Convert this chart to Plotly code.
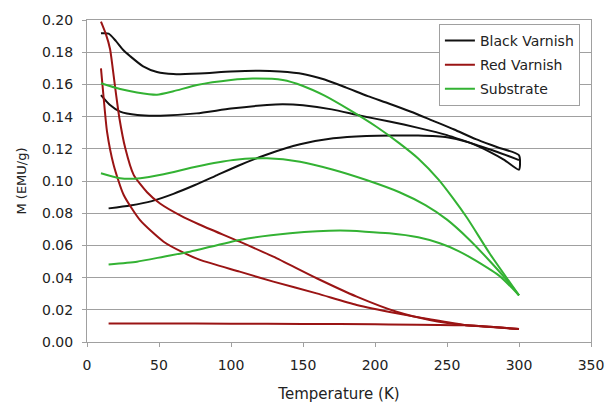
import plotly.graph_objects as go

# ---------------- data ----------------
# Black Varnish: rising curve, upper curve, middle curve
black_c_T = [15, 30, 45, 60, 75, 90, 105, 125, 148, 171, 194, 213, 230, 250, 265, 280, 290, 300]
black_c_M = [0.083, 0.0848, 0.0875, 0.092, 0.0975, 0.1035, 0.1095, 0.1165, 0.1228, 0.1265,
             0.128, 0.1283, 0.1282, 0.1272, 0.124, 0.118, 0.113, 0.107]
black_a_T = [9.7, 15, 20, 25, 30, 39, 48.6, 60, 78, 100, 120, 134, 150, 165, 180, 195, 210,
             225, 240, 255, 270, 285, 300]
black_a_M = [0.1917, 0.1915, 0.187, 0.1815, 0.1775, 0.1712, 0.1677, 0.1664, 0.1668, 0.168,
             0.1685, 0.168, 0.1665, 0.163, 0.158, 0.1527, 0.148, 0.143, 0.1375, 0.132, 0.126,
             0.121, 0.116]
black_b_T = [9.7, 16, 23, 35, 51, 76, 100, 125, 136, 150, 170, 190, 210, 230, 250, 270, 285, 300]
black_b_M = [0.1534, 0.1472, 0.1431, 0.141, 0.1406, 0.142, 0.145, 0.1472, 0.1476, 0.147,
             0.1445, 0.1405, 0.137, 0.133, 0.1285, 0.1225, 0.118, 0.113]

# Red Varnish
red_1_T = [9.7, 13, 16, 18, 20, 22.5, 26.6, 32.4, 41.7, 50.7, 65, 78, 106, 129.4, 159.5,
           187.3, 215, 238, 262, 280, 300]
red_1_M = [0.199, 0.1915, 0.182, 0.169, 0.155, 0.139, 0.1203, 0.1038, 0.093, 0.086, 0.0785,
           0.073, 0.0623, 0.053, 0.0396, 0.0282, 0.0188, 0.0137, 0.0106, 0.0095, 0.008]
red_2_T = [9.7, 11.6, 13.9, 18.5, 25.5, 37, 53.2, 67, 78.5, 106, 129.4, 159.5, 187.3, 215,
           238, 262, 280, 300]
red_2_M = [0.170, 0.1513, 0.1307, 0.110, 0.0913, 0.0755, 0.0623, 0.0555, 0.051, 0.0437,
           0.0375, 0.0302, 0.023, 0.0178, 0.0141, 0.0106, 0.0095, 0.008]
red_3_T = [15, 50, 100, 150, 200, 262, 300]
red_3_M = [0.0115, 0.0115, 0.0114, 0.0112, 0.011, 0.0104, 0.008]

# Substrate
green_1_T = [9.7, 23, 34.7, 48.6, 60, 76.4, 100, 115, 136, 150, 165, 182.6, 201, 217, 230,
             244, 254, 264, 280, 300]
green_1_M = [0.1607, 0.1571, 0.155, 0.1536, 0.1557, 0.1596, 0.1627, 0.1636, 0.1627, 0.159,
             0.153, 0.144, 0.1337, 0.1234, 0.114, 0.101, 0.0895, 0.077, 0.0545, 0.029]
green_2_T = [9.7, 23, 37, 53.2, 76.4, 101.6, 125, 148, 171, 194, 217, 235, 250, 265, 280,
             290, 300]
green_2_M = [0.1048, 0.1017, 0.1017, 0.1042, 0.109, 0.113, 0.1141, 0.112, 0.107, 0.1006,
             0.093, 0.085, 0.076, 0.064, 0.05, 0.04, 0.029]
green_3_T = [15, 34.7, 53.2, 71.5, 106, 141, 175.7, 210, 230, 245, 258, 270, 287, 300]
green_3_M = [0.0482, 0.0499, 0.053, 0.0561, 0.0634, 0.0675, 0.0692, 0.0675, 0.065, 0.0613,
             0.0565, 0.0505, 0.0406, 0.029]

series_names = ["Black Varnish", "Red Varnish", "Substrate"]
series_colors = ["#111111", "#9a1414", "#33b233"]

x_ticks = [0, 50, 100, 150, 200, 250, 300, 350]
y_ticks = [0.00, 0.02, 0.04, 0.06, 0.08, 0.10, 0.12, 0.14, 0.16, 0.18, 0.20]


def join(segments):
    xs, ys = [], []
    for i, (sx, sy) in enumerate(segments):
        if i:
            xs.append(None)
            ys.append(None)
        xs.extend(sx)
        ys.extend(sy)
    return xs, ys


black_x, black_y = join([
    (black_c_T + black_a_T[::-1], black_c_M + black_a_M[::-1]),
    (black_b_T, black_b_M),
])
red_x, red_y = join([(red_1_T, red_1_M), (red_2_T, red_2_M), (red_3_T, red_3_M)])
green_x, green_y = join([(green_1_T, green_1_M), (green_2_T, green_2_M), (green_3_T, green_3_M)])

FONT = "DejaVu Sans"
TXT = "#222222"
fig = go.Figure()
for name, color, xs, ys in zip(series_names, series_colors,
                               [black_x, red_x, green_x], [black_y, red_y, green_y]):
    fig.add_trace(go.Scatter(
        x=xs, y=ys, mode="lines", name=name, legendgroup=name,
        line=dict(color=color, width=2, shape="spline", smoothing=0.6),
        connectgaps=False,
    ))

axis_common = dict(
    showline=True, linecolor="#a0a0a0", linewidth=1, mirror=True,
    ticks="outside", ticklen=4, tickcolor="#a0a0a0",
    tickfont=dict(family=FONT, size=14, color=TXT),
    zeroline=False,
)
fig.update_xaxes(
    range=[0, 350], tickvals=x_ticks, ticktext=[str(v) for v in x_ticks],
    showgrid=False, ticklabelstandoff=6,
    title=dict(text="Temperature (K)", font=dict(family=FONT, size=15, color=TXT),
               standoff=16),
    **axis_common,
)
fig.update_yaxes(
    range=[0, 0.20], tickvals=y_ticks, ticktext=[f"{v:.2f}" for v in y_ticks],
    showgrid=True, gridcolor="#a0a0a0", gridwidth=1, ticklabelstandoff=6,
    title=dict(text="M (EMU/g)", font=dict(family=FONT, size=13, color=TXT),
               standoff=12),
    **axis_common,
)
fig.update_layout(
    width=606, height=405,
    margin=dict(l=87, r=15, t=20, b=63, autoexpand=False),
    paper_bgcolor="white", plot_bgcolor="white",
    showlegend=True,
    legend=dict(
        x=0.978, y=0.988, xanchor="right", yanchor="top",
        bgcolor="white", bordercolor="#a0a0a0", borderwidth=1,
        font=dict(family=FONT, size=14, color=TXT),
        tracegroupgap=3, itemwidth=30,
    ),
)
fig.write_html(
    "out.html",
    config={"displayModeBar": False},
    post_script="document.body.style.margin='0';document.body.style.overflow='hidden';",
)
